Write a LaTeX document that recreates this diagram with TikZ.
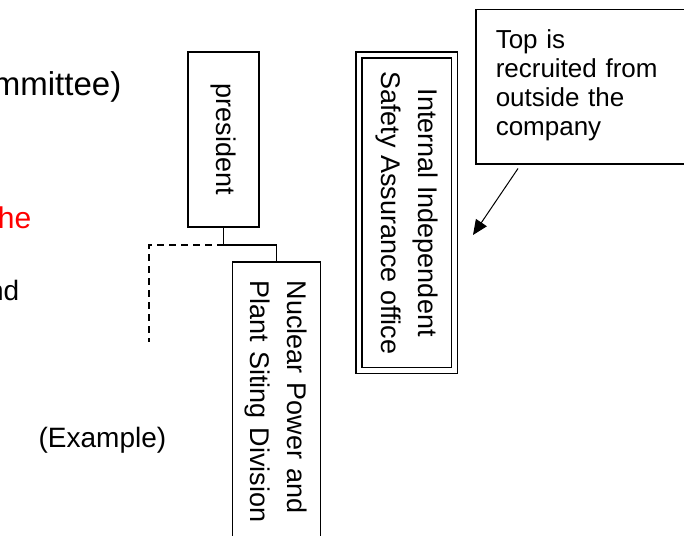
\documentclass[tikz,border=0pt]{standalone}
\usepackage{fontspec}
\setmainfont{Liberation Sans}
\usetikzlibrary{arrows.meta,positioning,calc}
\definecolor{notered}{RGB}{255,0,0}

\begin{document}
\begin{tikzpicture}[x=1pt,y=-1pt,>=Latex,line width=1.5pt,
  vbox/.style={draw,rotate=-90,inner sep=0pt,align=center,font=\fontsize{27}{37}\selectfont},
  sidetext/.style={inner sep=0pt,anchor=base east,font=\fontsize{28}{34}\selectfont}]
\useasboundingbox (0,0) rectangle (684,535);
\clip (0,0) rectangle (684,535);

% Text cut off at the left edge
\node(committee)[sidetext,font=\fontsize{33}{40}\selectfont] at (122,95){mmittee)};
\node(redline)[sidetext,text=notered,font=\fontsize{30}{36}\selectfont] at (32,228){he};
\node(andline)[sidetext] at (20,300){nd};
\node(example)[sidetext] at (167,447){(Example)};

% Boxes
\node(president)[vbox,minimum width=175pt,minimum height=71pt] at (223.5,139.5){president};
\node(nuclear)[vbox,anchor=north west,text width=300pt,align=left,inner xsep=19pt,minimum height=88pt] at (321,261){Nuclear Power and\\Plant Siting Division};
\node(office)[vbox,double,double distance=4.5pt,minimum width=315.5pt,minimum height=95.5pt] at (406.75,212.75){Internal Independent\\Safety Assurance office};
\node(toprecruit)[draw,anchor=north west,text width=200pt,align=left,inner xsep=20pt,minimum height=154pt,font=\fontsize{26}{29}\selectfont] at (475,9){Top is\\recruited from\\outside the\\company\\[-21pt]\mbox{}};

% Connectors
\draw (president.east) -- ++(0,17) coordinate(fork) -| (nuclear.west);
\coordinate(cut) at (149,342);
\draw[dashed,dash pattern=on 7pt off 5pt] (fork) -| (cut);

% Arrow
\coordinate(target) at (473,235);
\draw[->,line width=1pt,>={Triangle[length=15pt,width=13pt]}] ($(toprecruit.south west)+(43,4)$) -- (target);
\end{tikzpicture}
\end{document}
